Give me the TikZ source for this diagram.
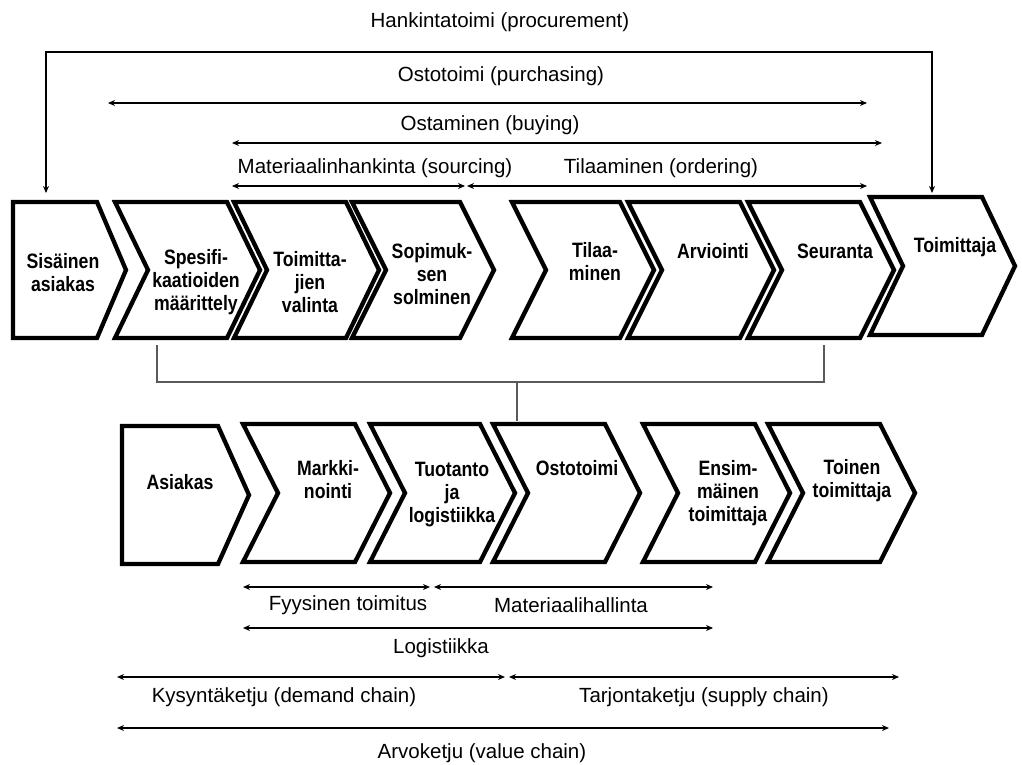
\documentclass[tikz,border=0pt]{standalone}
\usepackage{fontspec}
\setmainfont{Liberation Sans}
\newfontfamily\stepfont[FakeStretch=0.85]{Liberation Sans}
\usetikzlibrary{arrows.meta}

% chevron: left x, top y, width, tip depth, height
\newcommand\stepchevron[5]{%
  \draw[chevronline] (#1,#2) -- ++(#3,0) -- ++(#4,#5/2) -- ++(-#4,#5/2)
    -- ++(-#3,0) -- ++(#4,-#5/2) -- cycle;}

\begin{document}
\begin{tikzpicture}[x=1pt,y=-1pt,
  chevronline/.style={line width=4.3pt, line join=miter, draw=black, fill=white},
  steptext/.style={font=\stepfont\bfseries\fontsize{20.8}{23}\selectfont, align=center, inner sep=0pt},
  spanlabel/.style={font=\fontsize{20.5}{24}\selectfont, inner sep=0pt},
  span/.style={line width=1.4pt, {Stealth[length=7pt,width=6pt]}-{Stealth[length=7pt,width=6pt]}},
  link/.style={line width=1.5pt, draw=black!65}]
\useasboundingbox (0,0) rectangle (1022,765);
\fill[white] (0,0) rectangle (1022,765);

% ---------- upper process chain ----------
\draw[chevronline] (13,202) -- (97,202) -- (126,270) -- (97,338) -- (13,338) -- cycle;
\stepchevron{115}{202}{112}{33}{136}
\stepchevron{234}{202}{112}{33}{136}
\stepchevron{352}{202}{108}{34}{136}
\stepchevron{512}{202}{108}{34}{136}
\stepchevron{628}{202}{112}{34}{136}
\stepchevron{748}{202}{112}{34}{136}
\stepchevron{870}{197}{112}{33}{138}

\node[steptext] (sisainen) at (63,273) {Sisäinen\\asiakas};
\node[steptext] (spes) at (196,282) {Spesifi-\\kaatioiden\\määrittely};
\node[steptext] (valinta) at (310,282) {Toimitta-\\jien\\valinta};
\node[steptext] (sopimus) at (432,274) {Sopimuk-\\sen\\solminen};
\node[steptext] (tilaus) at (595,262) {Tilaa-\\minen};
\node[steptext] (arviointi) at (713,251) {Arviointi};
\node[steptext] (seuranta) at (835,251) {Seuranta};
\node[steptext] (toimittaja) at (955,247) {Toimittaja};

% ---------- lower value chain ----------
\draw[chevronline] (122,426) -- (218,426) -- (249,495) -- (218,564) -- (122,564) -- cycle;
\stepchevron{243}{424}{112}{35}{138}
\stepchevron{370}{424}{110}{35}{138}
\stepchevron{493}{424}{112}{35}{138}
\stepchevron{643}{424}{112}{35}{138}
\stepchevron{768}{424}{112}{35}{138}

\node[steptext] (asiakas) at (180,482) {Asiakas};
\node[steptext] (markkinointi) at (328,480) {Markki-\\nointi};
\node[steptext] (tuotanto) at (452,495) {Tuotanto\\ja\\logistiikka};
\node[steptext] (ostotoimi) at (577,468) {Ostotoimi};
\node[steptext] (ensimmainen) at (728,493) {Ensim-\\mäinen\\toimittaja};
\node[steptext] (toinen) at (852,481) {Toinen\\toimittaja};

% ---------- bracket joining the two chains ----------
\coordinate (spesfoot) at (157,345);
\coordinate (seurfoot) at (824,345);
\coordinate (junction) at (517,382);
\coordinate (ostohead) at (517,421);
\draw[link] (spesfoot) -- (spesfoot |- junction) -- (seurfoot |- junction) -- (seurfoot);
\draw[link] (junction) -- (ostohead);

% ---------- spans above ----------
\node[spanlabel] (hankinta) at (500,22) {Hankintatoimi (procurement)};
\coordinate (procL) at (46,193);
\coordinate (procTL) at (46,52);
\coordinate (procTR) at (932,52);
\coordinate (procR) at (932,193);
\draw[span] (procL) -- (procTL) -- (procTR) -- (procR);

\node[spanlabel] (ostotoimilabel) at (501,76) {Ostotoimi (purchasing)};
\coordinate (purchL) at (108,103);
\coordinate (purchR) at (867,103);
\draw[span] (purchL) -- (purchR);

\node[spanlabel] (ostaminen) at (490,125) {Ostaminen (buying)};
\coordinate (buyL) at (232,143);
\coordinate (buyR) at (882,143);
\draw[span] (buyL) -- (buyR);

\node[spanlabel] (sourcing) at (375,168) {Materiaalinhankinta (sourcing)};
\node[spanlabel] (ordering) at (661,168) {Tilaaminen (ordering)};
\coordinate (sourceL) at (232,186);
\coordinate (sourceR) at (465,186);
\coordinate (orderL) at (467,186);
\coordinate (orderR) at (867,186);
\draw[span] (sourceL) -- (sourceR);
\draw[span] (orderL) -- (orderR);

% ---------- spans below ----------
\coordinate (physL) at (243,587);
\coordinate (physR) at (430,587);
\coordinate (matL) at (434,587);
\coordinate (matR) at (713,587);
\draw[span] (physL) -- (physR);
\draw[span] (matL) -- (matR);
\node[spanlabel] (fyysinen) at (348,605) {Fyysinen toimitus};
\node[spanlabel] (materiaali) at (571,605) {Materiaalihallinta};

\coordinate (logL) at (243,628);
\coordinate (logR) at (713,628);
\draw[span] (logL) -- (logR);
\node[spanlabel] (logistiikka) at (441,648) {Logistiikka};

\coordinate (demandL) at (117,677);
\coordinate (demandR) at (505,677);
\coordinate (supplyL) at (509,677);
\coordinate (supplyR) at (899,677);
\draw[span] (demandL) -- (demandR);
\draw[span] (supplyL) -- (supplyR);
\node[spanlabel] (kysynta) at (284,697) {Kysyntäketju (demand chain)};
\node[spanlabel] (tarjonta) at (704,697) {Tarjontaketju (supply chain)};

\coordinate (valueL) at (117,728);
\coordinate (valueR) at (889,728);
\draw[span] (valueL) -- (valueR);
\node[spanlabel] (arvoketju) at (482,753) {Arvoketju (value chain)};
\end{tikzpicture}
\end{document}
